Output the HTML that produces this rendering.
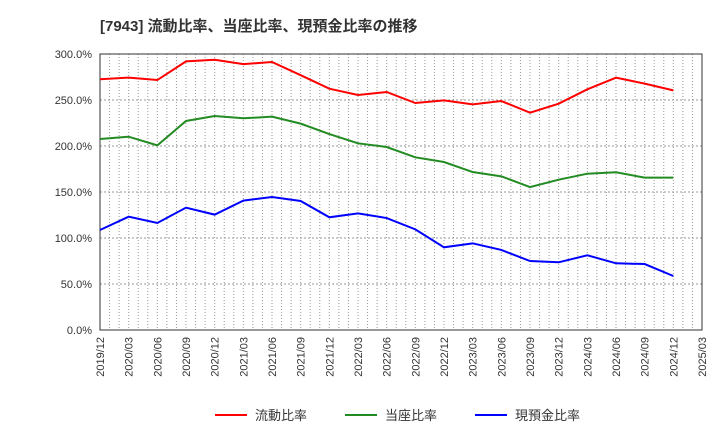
<!DOCTYPE html>
<html><head><meta charset="utf-8"><style>
body{margin:0;background:#fff;font-family:"Liberation Sans","Noto Sans CJK JP",sans-serif;}
</style></head><body>
<svg id="c" width="720" height="440" xmlns="http://www.w3.org/2000/svg" font-family="Liberation Sans, Noto Sans CJK JP, sans-serif">
<text x="100" y="31" font-size="15" font-weight="bold" fill="#333">[7943]  流動比率、当座比率、現預金比率の推移</text>
<g id="grid"></g><g id="axes"></g><g id="lines"></g>
<g>
<line x1="215" y1="415" x2="247" y2="415" stroke="#f00" stroke-width="2"/><text x="255" y="420" font-size="13" fill="#333">流動比率</text>
<line x1="345" y1="415" x2="377" y2="415" stroke="#228b22" stroke-width="2"/><text x="385" y="420" font-size="13" fill="#333">当座比率</text>
<line x1="475" y1="415" x2="507" y2="415" stroke="#00f" stroke-width="2"/><text x="515" y="420" font-size="13" fill="#333">現預金比率</text>
</g>
</svg>
<script>
const xLabels=["2019/12","2020/03","2020/06","2020/09","2020/12","2021/03","2021/06","2021/09","2021/12","2022/03","2022/06","2022/09","2022/12","2023/03","2023/06","2023/09","2023/12","2024/03","2024/06","2024/09","2024/12","2025/03"];
const yTicks=[0,50,100,150,200,250,300];
const currentRatio=[272.5,274.3,271.7,292,293.8,289,291.3,277,262.3,255.4,258.7,246.7,249.6,245.3,248.9,236.2,246,261.6,274.3,267.8,260.5];
const quickRatio=[207.6,210.1,200.7,227.2,232.6,230.1,231.9,224.3,213,202.9,198.9,187.7,182.6,171.7,167,155.4,163.4,169.9,171.4,165.6,165.6];
const cashRatio=[108.7,123.2,116.3,133,125.4,140.6,144.6,140.2,122.5,126.8,121.7,109.4,89.9,94.2,87,75,73.6,81.2,72.5,71.7,58.7];
const L=100,R=702,T=54,B=330,NS="http://www.w3.org/2000/svg";
const months=(xLabels.length-1)*3;
const xq=i=>L+(R-L)*i/(xLabels.length-1);
const xm=m=>L+(R-L)*m/months;
const y=v=>B-(B-T)*v/300;
function mk(tag,attrs,parent){const e=document.createElementNS(NS,tag);for(const k in attrs)e.setAttribute(k,attrs[k]);document.getElementById(parent).appendChild(e);return e;}
for(let m=1;m<months;m++){const e=mk('line',{x1:xm(m),x2:xm(m),y1:T,y2:B,stroke:'#999','stroke-dasharray':'1,2','stroke-width':1},'grid');

}
yTicks.forEach(v=>{if(v>0&&v<300){const e=mk('line',{x1:L,x2:R,y1:y(v),y2:y(v),stroke:'#999','stroke-dasharray':'2,2'},'grid');

}
const t=mk('text',{x:92,y:y(v)+4,'text-anchor':'end','font-size':11,fill:'#333'},'axes');t.textContent=v.toFixed(1)+'%';

});
const fr=mk('rect',{x:L,y:T,width:R-L,height:B-T,fill:'none',stroke:'#333'},'axes');


xLabels.forEach((s,i)=>{const t=mk('text',{x:0,y:0,transform:`translate(${xq(i)+4},337) rotate(-90)`,'text-anchor':'end','font-size':11,fill:'#333'},'axes');t.textContent=s;

});
[[currentRatio,'#f00','current-ratio-line'],[quickRatio,'#228b22','quick-ratio-line'],[cashRatio,'#00f','cash-ratio-line']].forEach(([d,c,n])=>{
const p=mk('polyline',{points:d.map((v,i)=>xq(i)+','+y(v)).join(' '),fill:'none',stroke:c,'stroke-width':2},'lines');

});
</script>
</body></html>
